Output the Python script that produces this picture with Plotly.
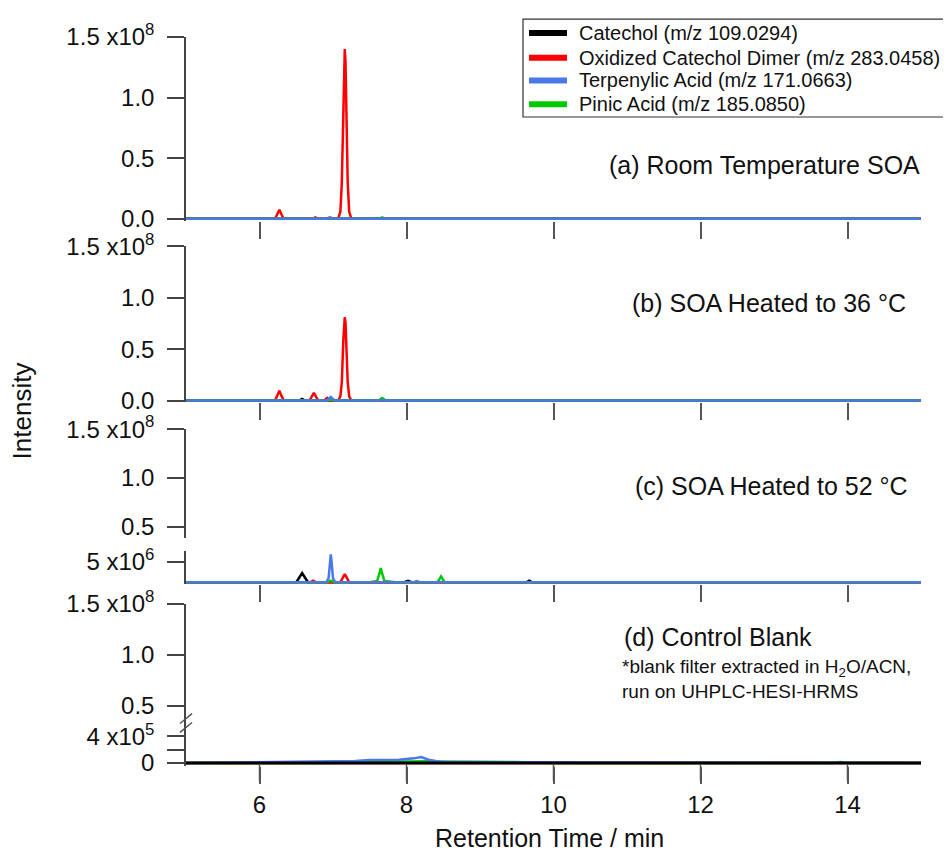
import plotly.graph_objects as go

# ---------------- data ----------------
X_RANGE = [5, 15]
X_TICKS = [6, 8, 10, 12, 14]

NAMES = ["Catechol (m/z 109.0294)", "Oxidized Catechol Dimer (m/z 283.0458)",
         "Terpenylic Acid (m/z 171.0663)", "Pinic Acid (m/z 185.0850)"]
COLORS = ["#000000", "#FF0000", "#4A78E8", "#00C800"]

PANEL_LABELS = ["(a) Room Temperature SOA", "(b) SOA Heated to 36 °C",
                "(c) SOA Heated to 52 °C", "(d) Control Blank"]
BLANK_NOTE = "*blank filter extracted in H<sub>2</sub>O/ACN,<br>run on UHPLC-HESI-HRMS"

# Panel (a) Room temperature SOA
A_CAT_T = [5.0, 15.0]
A_CAT_I = [0, 0]
A_DIM_T = [5.0, 6.21, 6.24, 6.27, 6.30, 6.33, 6.72, 6.76, 6.80, 6.91, 6.95, 6.99,
           7.07, 7.10, 7.12, 7.14, 7.15, 7.16, 7.17, 7.18, 7.20, 7.22, 7.25, 15.0]
A_DIM_I = [0, 0, 3.5e6, 7.5e6, 3.5e6, 0, 0, 1.2e6, 0, 0, 1.0e6, 0,
           0, 0.06e8, 0.30e8, 0.98e8, 1.30e8, 1.40e8, 1.30e8, 0.98e8, 0.30e8, 0.06e8, 0, 0]
A_TER_T = [5.0, 6.93, 6.97, 7.01, 15.0]
A_TER_I = [0, 0, 1.0e6, 0, 0]
A_PIN_T = [5.0, 7.63, 7.67, 7.71, 15.0]
A_PIN_I = [0, 0, 1.2e6, 0, 0]

# Panel (b) SOA heated to 36 C
B_CAT_T = [5.0, 6.54, 6.58, 6.62, 15.0]
B_CAT_I = [0, 0, 1.5e6, 0, 0]
B_DIM_T = [5.0, 6.21, 6.24, 6.27, 6.30, 6.33, 6.68, 6.71, 6.74, 6.77, 6.80,
           6.88, 6.92, 6.96, 7.07, 7.10, 7.12, 7.14, 7.15, 7.16, 7.17, 7.18, 7.20, 7.22,
           7.25, 15.0]
B_DIM_I = [0, 0, 4.5e6, 9.5e6, 4.5e6, 0, 0, 3.5e6, 7.5e6, 3.5e6, 0,
           0, 2.5e6, 0, 0, 0.04e8, 0.18e8, 0.58e8, 0.76e8, 0.81e8, 0.76e8, 0.58e8, 0.18e8,
           0.04e8, 0, 0]
B_TER_T = [5.0, 6.92, 6.97, 7.02, 15.0]
B_TER_I = [0, 0, 3.5e6, 0, 0]
B_PIN_T = [5.0, 6.93, 6.97, 7.01, 7.62, 7.67, 7.72, 15.0]
B_PIN_I = [0, 0, 1.0e6, 0, 0, 2.5e6, 0, 0]

# Panel (c) SOA heated to 52 C
C_CAT_T = [5.0, 6.50, 6.54, 6.58, 6.62, 6.66, 7.97, 8.02, 8.07, 9.63, 9.67, 9.71, 15.0]
C_CAT_I = [0, 0, 1.1e6, 2.2e6, 1.1e6, 0, 0, 0.35e6, 0, 0, 0.4e6, 0, 0]
C_DIM_T = [5.0, 6.69, 6.73, 6.77, 7.10, 7.13, 7.16, 7.19, 7.22, 15.0]
C_DIM_I = [0, 0, 0.4e6, 0, 0, 1.0e6, 2.0e6, 1.0e6, 0, 0]
C_TER_T = [5.0, 6.91, 6.94, 6.96, 6.97, 6.98, 7.00, 7.03, 8.10, 8.14, 8.18, 15.0]
C_TER_I = [0, 0, 1.0e6, 5.0e6, 6.7e6, 5.0e6, 1.0e6, 0, 0, 0.3e6, 0, 0]
C_PIN_T = [5.0, 6.92, 6.97, 7.02, 7.50, 7.60, 7.63, 7.65, 7.67, 7.70, 7.85,
           8.42, 8.45, 8.47, 8.49, 8.52, 15.0]
C_PIN_I = [0, 0, 0.4e6, 0, 0, 0.3e6, 2.0e6, 3.4e6, 2.0e6, 0.3e6, 0,
           0, 0.8e6, 1.4e6, 0.8e6, 0, 0]

# Panel (d) control blank
D_CAT_T = [5.0, 15.0]
D_CAT_I = [0, 0]
D_DIM_T = [5.0, 15.0]
D_DIM_I = [0, 0]
D_TER_T = [5.0, 5.6, 6.0, 6.5, 6.9, 7.3, 7.5, 7.9, 8.1, 8.2, 8.3, 8.45, 8.8, 9.5, 10.5,
           11.5, 12.5, 13.5, 15.0]
D_TER_I = [0, 5e3, 1.2e4, 1.5e4, 2.2e4, 3.0e4, 4.5e4, 5.0e4, 7.0e4, 9.0e4, 5.0e4,
           1.8e4, 1.4e4, 1.1e4, 9e3, 8e3, 6e3, 4e3, 0]
D_PIN_T = [5.0, 7.0, 7.5, 8.0, 8.3, 8.6, 9.5, 10.0, 13.8, 13.9, 14.0, 15.0]
D_PIN_I = [0, 0, 1.5e4, 2.2e4, 2.5e4, 1.8e4, 1.4e4, 0, 0, 1.5e4, 0, 0]

# ---------------- layout helpers (screen-pixel geometry) ----------------
OFF = 8                       # page body margin
FIG_W, FIG_H = 951 - OFF, 852 - OFF
L, R, T, B = 186, 921, 28, 766  # plot area in screen pixels
W, H = R - L, B - T


def px(x):
    return (x - L) / W


def py(y):
    return (B - y) / H


def geom(top_px, bot_px, v1, p1, v2, p2):
    s = (v2 - v1) / (p1 - p2)  # value per pixel (upwards)
    vb = v1 - (bot_px - p1) * s
    vt = v1 + (p1 - top_px) * s
    return [max(0.0, py(bot_px)), min(1.0, py(top_px))], [vb, vt]


FONT = "Arial, 'Liberation Sans', sans-serif"
AX_COL = "#444444"

dom_a, rng_a = geom(28, 214, 0, 212, 1.5e8, 28)
dom_b, rng_b = geom(240, 398, 0, 396, 1.5e8, 240)
dom_cu, rng_cu = geom(425, 535, 0.5e8, 524, 1.5e8, 425)
dom_cl, rng_cl = geom(548, 582, 0, 580, 5e6, 559)
dom_du, rng_du = geom(602, 722, 0.5e8, 705, 1.5e8, 602)
dom_dl, rng_dl = geom(722, 766, 0, 763, 4e5, 736)

fig = go.Figure()

panels = [
    ("x", "y", [(A_CAT_T, A_CAT_I, 0), (A_DIM_T, A_DIM_I, 1), (A_PIN_T, A_PIN_I, 3), (A_TER_T, A_TER_I, 2)]),
    ("x2", "y2", [(B_CAT_T, B_CAT_I, 0), (B_DIM_T, B_DIM_I, 1), (B_PIN_T, B_PIN_I, 3), (B_TER_T, B_TER_I, 2)]),
    ("x3", "y3", [(C_CAT_T, C_CAT_I, 0), (C_DIM_T, C_DIM_I, 1), (C_PIN_T, C_PIN_I, 3), (C_TER_T, C_TER_I, 2)]),
    ("x4", "y5", [(D_DIM_T, D_DIM_I, 1), (D_PIN_T, D_PIN_I, 3), (D_TER_T, D_TER_I, 2), (D_CAT_T, D_CAT_I, 0)]),
]
for xa, ya, series in panels:
    for t, v, k in series:
        fig.add_trace(go.Scatter(
            x=t, y=v, xaxis=xa, yaxis=ya, mode="lines", name=NAMES[k],
            line=dict(color=COLORS[k], width=3 if (ya == "y5" and k == 0) else 2.5),
            showlegend=False, hoverinfo="x+y+name"))

# upper (broken) axis segments of panels (c) and (d) hold no data
for xa, ya in [("x3", "y4"), ("x4", "y6")]:
    fig.add_trace(go.Scatter(x=[None], y=[None], xaxis=xa, yaxis=ya, mode="lines",
                             showlegend=False, hoverinfo="skip"))

tickfont = dict(family=FONT, size=24, color="#111111")


def xax(anchor, labels=False):
    d = dict(domain=[0, 1], anchor=anchor, range=X_RANGE, tickvals=X_TICKS,
             ticks="outside", ticklen=17, tickwidth=1.5, tickcolor="#555555",
             showline=False, showgrid=False, zeroline=False,
             showticklabels=labels, tickfont=tickfont, fixedrange=True)
    return d


def yax(anchor, dom, rng, vals, texts):
    return dict(domain=dom, range=rng, anchor=anchor, tickvals=vals, ticktext=texts,
                ticks="outside", ticklen=17, tickwidth=1.5, tickcolor=AX_COL,
                showline=True, linecolor=AX_COL, linewidth=1.5,
                showgrid=False, zeroline=False, tickfont=tickfont, fixedrange=True,
                ticklabelstandoff=8)


BIG_VALS = [0, 0.5e8, 1.0e8, 1.5e8]
BIG_TEXT = ["0.0", "0.5", "1.0", "1.5 x10<sup>8</sup>"]

fig.update_layout(
    width=FIG_W, height=FIG_H,
    margin=dict(l=L - OFF, r=951 - R, t=T - OFF, b=852 - B),
    paper_bgcolor="white", plot_bgcolor="rgba(0,0,0,0)",
    font=dict(family=FONT, size=20, color="#111111"),
    showlegend=False,
    xaxis=xax("y"),
    xaxis2=xax("y2"),
    xaxis3=xax("y3"),
    xaxis4=xax("y5", labels=True),
    yaxis=yax("x", dom_a, rng_a, BIG_VALS, BIG_TEXT),
    yaxis2=yax("x2", dom_b, rng_b, BIG_VALS, BIG_TEXT),
    yaxis3=yax("x3", dom_cl, rng_cl, [5e6], ["5 x10<sup>6</sup>"]),
    yaxis4=yax("x3", dom_cu, rng_cu, BIG_VALS[1:], BIG_TEXT[1:]),
    yaxis5=yax("x4", dom_dl, rng_dl, [0, 2e5, 4e5], ["0", "", "4 x10<sup>5</sup>"]),
    yaxis6=yax("x4", dom_du, rng_du, BIG_VALS[1:], BIG_TEXT[1:]),
)

annotations = []
label_pos = [(922, 158), (908, 297), (910, 483)]
for (xr, yc), txt in zip(label_pos, PANEL_LABELS[:3]):
    annotations.append(dict(x=px(xr), y=py(yc), xref="paper", yref="paper", text=txt,
                            showarrow=False, xanchor="right", yanchor="middle",
                            font=dict(family=FONT, size=25, color="#111111")))
annotations.append(dict(x=px(622), y=py(635), xref="paper", yref="paper", text=PANEL_LABELS[3],
                        showarrow=False, xanchor="left", yanchor="middle",
                        font=dict(family=FONT, size=25, color="#111111")))
annotations.append(dict(x=px(620), y=py(653), xref="paper", yref="paper", text=BLANK_NOTE,
                        showarrow=False, xanchor="left", yanchor="top", align="left",
                        font=dict(family=FONT, size=19, color="#111111")))
annotations.append(dict(x=px(22), y=py(407), xref="paper", yref="paper", text="Intensity",
                        showarrow=False, textangle=-90, xanchor="center", yanchor="middle",
                        font=dict(family=FONT, size=26, color="#111111")))
annotations.append(dict(x=px(549), y=py(839), xref="paper", yref="paper",
                        text="Retention Time / min", showarrow=False,
                        xanchor="center", yanchor="middle",
                        font=dict(family=FONT, size=25, color="#111111")))

# manual legend
shapes = [dict(type="rect", xref="paper", yref="paper", x0=px(523), x1=px(950),
               y0=py(109), y1=py(10), line=dict(color="#333333", width=1.2),
               fillcolor="white", layer="above")]
leg_rows = [24, 49, 72, 96]
for k, yrow in enumerate(leg_rows):
    shapes.append(dict(type="line", xref="paper", yref="paper", x0=px(529), x1=px(567),
                       y0=py(yrow), y1=py(yrow), line=dict(color=COLORS[k], width=6),
                       layer="above"))
    annotations.append(dict(x=px(577), y=py(yrow), xref="paper", yref="paper", text=NAMES[k],
                            showarrow=False, xanchor="left", yanchor="middle",
                            font=dict(family=FONT, size=20, color="#111111")))

# bottom-axis tick marks of panel (d), on the axis's own data coordinates
for xv in X_TICKS:
    shapes.append(dict(type="line", xref="x4", yref="paper", x0=xv, x1=xv,
                       y0=py(764), y1=py(781), line=dict(color="#555555", width=1.5),
                       layer="above"))

# axis break marks on panel (d)
for (x0, y0, x1, y1) in [(180, 723, 192, 713), (180, 732, 192, 722)]:
    shapes.append(dict(type="line", xref="paper", yref="paper", x0=px(x0), x1=px(x1),
                       y0=py(y0), y1=py(y1), line=dict(color="#555555", width=1.5),
                       layer="above"))

fig.update_layout(annotations=annotations, shapes=shapes)

fig.write_html("out.html")
